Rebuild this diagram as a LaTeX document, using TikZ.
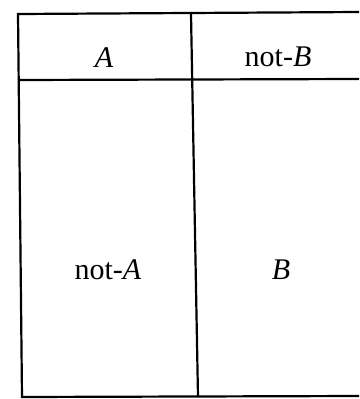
\documentclass[tikz,border=0pt]{standalone}
\usepackage{fontspec}
\setmainfont{Liberation Serif}
\begin{document}
\begin{tikzpicture}[x=1pt,y=-1pt,
  rule/.style={line width=2.2pt,black},
  cell/.style={font=\fontsize{30}{34}\selectfont,inner sep=0pt,anchor=base}]
\useasboundingbox (0,0) rectangle (359,399);
% table rules
\coordinate (tl) at (18,14);
\coordinate (tr) at (359,12);
\coordinate (ml) at (18,80);
\coordinate (mr) at (359,79);
\coordinate (bl) at (22,397);
\coordinate (br) at (359,396);
\coordinate (vt) at (191,14);
\coordinate (vb) at (198,397);
\draw[rule] (tr) -- (tl) -- (bl) -- (br);
\draw[rule] (ml) -- (mr);
\draw[rule] (vt) -- (vb);
% labels
\node[cell] (a) at (104,67) {\textit{A}};
\node[cell] (nb) at (278,66) {not-\textit{B}};
\node[cell] (na) at (108,279) {not-\textit{A}};
\node[cell] (b) at (281,279) {\textit{B}};
\end{tikzpicture}
\end{document}
